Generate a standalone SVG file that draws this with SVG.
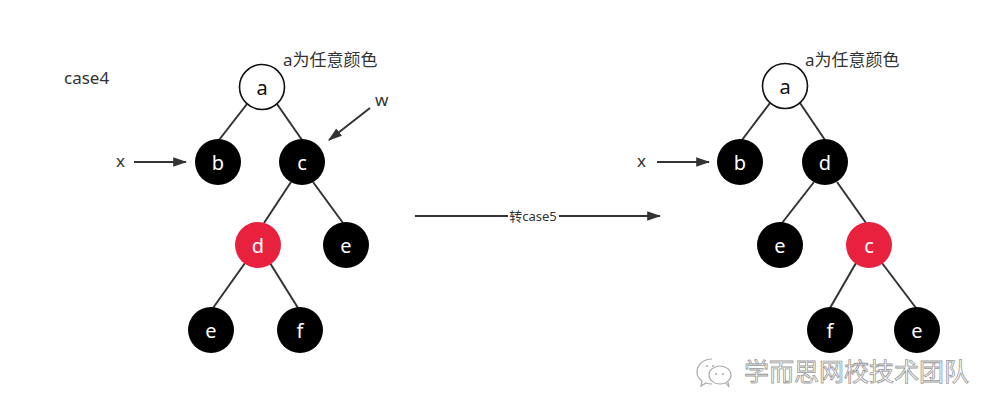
<svg xmlns="http://www.w3.org/2000/svg" width="1000" height="414" viewBox="0 0 1000 414">
<defs>
<style>
.lbl{font-family:"Noto Sans","Noto Sans CJK SC",sans-serif;font-size:17px;fill:#333}
.nt{font-family:"Noto Sans","Noto Sans CJK SC",sans-serif;font-size:20px;fill:#fff;text-anchor:middle;dominant-baseline:central}
.blk{fill:#000}
.red{fill:#e8213f}
.wht{fill:#fff;stroke:#111;stroke-width:1.6}
.edge{stroke:#333;stroke-width:2;fill:none}
.arr{stroke:#333;stroke-width:2;fill:none;marker-end:url(#ah)}
.wm{font-family:"Noto Sans CJK SC",sans-serif;font-size:25px;fill:#fff;stroke:#999;stroke-width:0.8}
</style>
<marker id="ah" viewBox="0 0 12 10" refX="11" refY="5" markerWidth="7" markerHeight="6" orient="auto" markerUnits="strokeWidth">
<path d="M0,1 L12,5 L0,9 Z" fill="#333"/>
</marker>
</defs>
<rect width="1000" height="414" fill="#fff"/>
<g id="connectors">
<line class="edge" x1="247" y1="104" x2="219" y2="140"/>
<line class="edge" x1="277" y1="104" x2="302" y2="140"/>
<line class="edge" x1="291" y1="182" x2="264" y2="223"/>
<line class="edge" x1="313" y1="182" x2="343" y2="223"/>
<line class="edge" x1="245" y1="263" x2="213" y2="308"/>
<line class="edge" x1="270" y1="263" x2="298" y2="308"/>
<line class="arr" x1="134" y1="162" x2="186" y2="162"/>
<line class="arr" x1="370" y1="108" x2="329" y2="140"/>
<line class="arr" x1="415" y1="216" x2="660" y2="216"/>
<line class="edge" x1="770" y1="103" x2="742" y2="140"/>
<line class="edge" x1="800" y1="103" x2="825" y2="140"/>
<line class="edge" x1="814" y1="182" x2="782" y2="223"/>
<line class="edge" x1="837" y1="182" x2="866" y2="223"/>
<line class="edge" x1="856" y1="263" x2="830" y2="308"/>
<line class="edge" x1="882" y1="263" x2="916" y2="308"/>
<line class="arr" x1="657" y1="162" x2="709" y2="162"/>
</g>
<rect x="508" y="207" width="51" height="18" fill="#fff"/>
<text x="533" y="221" class="lbl" style="font-size:13px" text-anchor="middle">转case5</text>
<text x="64" y="84" class="lbl">case4</text>
<text x="283" y="66" class="lbl">a为任意颜色</text>
<text x="116" y="167" class="lbl">x</text>
<text x="375" y="106" class="lbl">w</text>
<text x="805" y="66" class="lbl">a为任意颜色</text>
<text x="637" y="167" class="lbl">x</text>
<g id="L_a"><circle class="wht" cx="262" cy="87" r="22.5"/><text class="nt" x="262" y="87" style="fill:#111">a</text></g>
<g id="L_b"><circle class="blk" cx="218" cy="162" r="23"/><text class="nt" x="218" y="162">b</text></g>
<g id="L_c"><circle class="blk" cx="302" cy="162" r="23"/><text class="nt" x="302" y="162">c</text></g>
<g id="L_d"><circle class="red" cx="258" cy="245" r="23"/><text class="nt" x="258" y="245">d</text></g>
<g id="L_e1"><circle class="blk" cx="346" cy="245" r="23"/><text class="nt" x="346" y="245">e</text></g>
<g id="L_e2"><circle class="blk" cx="211" cy="330" r="23"/><text class="nt" x="211" y="330">e</text></g>
<g id="L_f"><circle class="blk" cx="300" cy="330" r="23"/><text class="nt" x="300" y="330">f</text></g>
<g id="R_a"><circle class="wht" cx="785" cy="86" r="22.5"/><text class="nt" x="785" y="86" style="fill:#111">a</text></g>
<g id="R_b"><circle class="blk" cx="740" cy="162" r="23"/><text class="nt" x="740" y="162">b</text></g>
<g id="R_d"><circle class="blk" cx="825" cy="162" r="23"/><text class="nt" x="825" y="162">d</text></g>
<g id="R_e1"><circle class="blk" cx="780" cy="245" r="23"/><text class="nt" x="780" y="245">e</text></g>
<g id="R_c"><circle class="red" cx="869" cy="245" r="23"/><text class="nt" x="869" y="245">c</text></g>
<g id="R_f"><circle class="blk" cx="830" cy="330" r="23"/><text class="nt" x="830" y="330">f</text></g>
<g id="R_e2"><circle class="blk" cx="917" cy="330" r="23"/><text class="nt" x="917" y="330">e</text></g>
<g id="watermark">
<path d="M712,359 C703,359 697,365 697,372 C697,376 699,379 702,381 L701,386 L706,383 C708,384 710,384 712,384" fill="none" stroke="#aaa" stroke-width="1.2"/>
<ellipse cx="720" cy="375" rx="11" ry="9" fill="#fff" stroke="#aaa" stroke-width="1.2"/>
<path d="M726,383 L729,387 L728,382" fill="none" stroke="#aaa" stroke-width="1.2"/>
<circle cx="716" cy="374" r="1" fill="#aaa"/><circle cx="723" cy="374" r="1" fill="#aaa"/>
<circle cx="707" cy="366" r="1" fill="#aaa"/><circle cx="713" cy="366" r="1" fill="#aaa"/>
<text class="wm" x="744" y="381">学而思网校技术团队</text>
</g>
</svg>
